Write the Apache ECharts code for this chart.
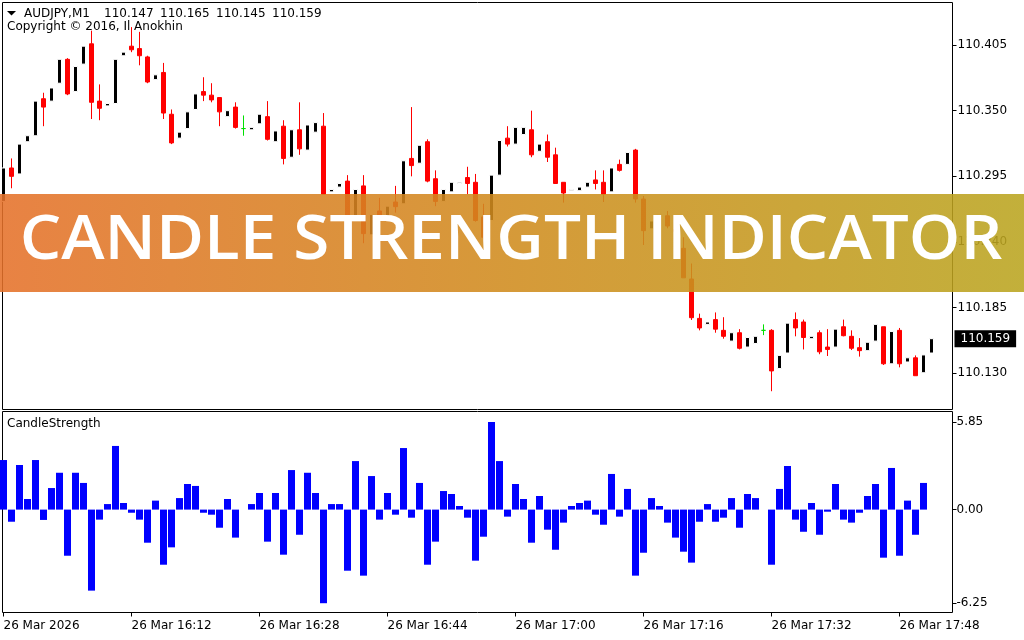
<!DOCTYPE html>
<html>
<head>
<meta charset="utf-8">
<style>
html,body{margin:0;padding:0;background:#fff;}
#chart{width:1024px;height:640px;}
</style>
<script src="https://cdn.jsdelivr.net/npm/echarts@6/dist/echarts.min.js"></script>
</head>
<body>
<div id="chart"></div>
<script>
// ---- data (AUDJPY M1, 117 bars, 26 Mar 15:56 .. 17:52) ----
const opens = [
110.274,110.302,110.297,110.324,110.329,110.360,110.358,110.373,110.393,110.366,
110.389,110.406,110.358,110.354,110.356,110.396,110.404,110.402,110.395,110.376,
110.382,110.347,110.327,110.335,110.351,110.366,110.363,110.361,110.345,110.353,
110.335,110.334,110.339,110.345,110.324,110.337,110.311,110.334,110.317,110.332,
110.337,110.282,110.286,110.291,110.258,110.287,110.246,110.266,110.261,110.2735,
110.272,110.310,110.306,110.324,110.293,110.274,110.282,110.289,110.294,110.290,
110.261,110.258,110.296,110.327,110.322,110.330,110.334,110.316,110.324,110.313,
110.290,110.283,110.283,110.286,110.292,110.290,110.282,110.305,110.305,110.317,
110.276,110.251,110.2615,110.262,110.2505,110.2347,110.209,110.176,110.171,110.175,
110.166,110.157,110.164,110.152,110.155,110.166,110.166,110.134,110.147,110.175,
110.173,110.159,110.164,110.152,110.152,110.169,110.161,110.1515,110.149,110.157,
110.169,110.138,110.166,110.1395,110.143,110.1305,110.147
];
const closes = [
110.302,110.295,110.322,110.329,110.358,110.353,110.369,110.393,110.364,110.387,
110.404,110.357,110.352,110.356,110.393,110.399,110.401,110.396,110.374,110.380,
110.348,110.323,110.332,110.349,110.364,110.363,110.359,110.349,110.350,110.336,
110.335,110.336,110.347,110.326,110.333,110.310,110.334,110.318,110.338,110.340,
110.280,110.284,110.289,110.258,110.284,110.247,110.263,110.259,110.270,110.2696,
110.308,110.304,110.321,110.291,110.274,110.284,110.290,110.290,110.289,110.258,
110.244,110.296,110.325,110.322,110.336,110.336,110.313,110.322,110.311,110.289,
110.281,110.284,110.286,110.290,110.289,110.280,110.302,110.300,110.315,110.276,
110.2495,110.2576,110.263,110.2534,110.249,110.210,110.1766,110.168,110.173,110.167,
110.161,110.164,110.151,110.160,110.161,110.166,110.132,110.145,110.172,110.168,
110.160,110.161,110.148,110.150,110.167,110.1615,110.151,110.149,110.156,110.171,
110.138,110.165,110.138,110.143,110.128,110.1454,110.159
];
const highs = [
110.302,110.310,110.322,110.329,110.358,110.365,110.369,110.393,110.394,110.387,
110.404,110.417,110.372,110.356,110.393,110.399,110.420,110.416,110.396,110.380,
110.390,110.351,110.332,110.349,110.364,110.378,110.373,110.361,110.350,110.357,
110.346,110.336,110.347,110.358,110.333,110.342,110.334,110.357,110.338,110.340,
110.348,110.284,110.289,110.296,110.284,110.296,110.263,110.277,110.270,110.287,
110.308,110.353,110.321,110.326,110.300,110.284,110.290,110.290,110.303,110.297,
110.272,110.296,110.325,110.337,110.336,110.336,110.350,110.322,110.330,110.319,
110.290,110.284,110.286,110.290,110.300,110.300,110.302,110.309,110.315,110.318,
110.2785,110.2576,110.263,110.266,110.255,110.244,110.222,110.180,110.173,110.181,
110.177,110.164,110.167,110.160,110.161,110.171,110.167,110.145,110.172,110.181,
110.175,110.161,110.166,110.167,110.167,110.175,110.166,110.1595,110.156,110.171,
110.169,110.165,110.168,110.143,110.145,110.1454,110.165
];
const lows = [
110.274,110.285,110.297,110.324,110.329,110.337,110.358,110.373,110.363,110.366,
110.389,110.343,110.342,110.354,110.356,110.396,110.399,110.388,110.373,110.376,
110.343,110.322,110.327,110.335,110.351,110.358,110.357,110.337,110.345,110.335,
110.329,110.334,110.339,110.325,110.324,110.305,110.311,110.313,110.317,110.332,
110.280,110.282,110.286,110.240,110.258,110.239,110.246,110.259,110.261,110.2646,
110.272,110.295,110.306,110.290,110.270,110.274,110.282,110.289,110.280,110.257,
110.242,110.258,110.296,110.320,110.322,110.330,110.311,110.316,110.307,110.289,
110.273,110.283,110.283,110.286,110.284,110.2735,110.282,110.299,110.305,110.273,
110.2375,110.251,110.2615,110.2515,110.237,110.210,110.1747,110.166,110.171,110.164,
110.159,110.157,110.150,110.152,110.155,110.162,110.115,110.134,110.147,110.161,
110.150,110.159,110.146,110.1445,110.152,110.161,110.1495,110.144,110.149,110.157,
110.137,110.138,110.135,110.1395,110.128,110.1305,110.145
];
// CandleStrength histogram (last bar not yet computed)
const strength = [
3.31,-0.81,2.98,0.71,3.31,-0.69,1.44,2.46,-3.08,2.46,
1.78,-5.41,-0.67,0.37,4.25,0.44,-0.21,-0.67,-2.21,0.60,
-3.68,-2.52,0.77,1.71,1.58,-0.21,-0.34,-1.21,0.71,-1.87,
0,0.37,1.11,-2.14,1.11,-3.01,2.64,-1.68,2.46,1.11,
-6.25,0.37,0.37,-4.08,3.24,-4.41,2.24,-0.67,1.11,-0.34,
4.11,-0.54,1.78,-3.68,-2.14,1.24,1.04,0.24,-0.54,-3.41,
-1.81,5.85,3.24,-0.47,1.71,0.71,-2.21,0.91,-1.34,-2.68,
-0.87,0.24,0.44,0.60,-0.34,-1.01,2.38,-0.47,1.38,-4.41,
-2.88,0.77,0.24,-0.87,-1.87,-2.81,-3.54,-0.81,0.37,-0.81,
-0.54,0.77,-1.21,1.04,0.77,0,-3.68,1.38,2.91,-0.67,
-1.48,0.44,-1.68,-0.14,1.71,-0.67,-0.87,-0.21,0.91,1.71,
-3.21,2.78,-3.08,0.60,-1.68,1.78,null
];
const timeTickIndex = [0,16,32,48,64,80,96,112];
const timeTickLabels = ['26 Mar 2026','26 Mar 16:12','26 Mar 16:28','26 Mar 16:44','26 Mar 17:00','26 Mar 17:16','26 Mar 17:32','26 Mar 17:48'];
const priceTicks = [110.130,110.185,110.240,110.295,110.350,110.405];
const strengthTicks = [5.85,0,-6.25];
const symbolName = 'AUDJPY,M1';
const copyrightText = 'Copyright \u00a9 2016, Il Anokhin';
const indicatorName = 'CandleStrength';
const bannerText = 'CANDLE STRENGTH INDICATOR';

// ---- build ----
const bull = [], bear = [], doji = [];
for (let i = 0; i < opens.length; i++) {
  const item = [i, opens[i], closes[i], lows[i], highs[i]];
  if (closes[i] > opens[i]) bull.push(item);
  else if (closes[i] < opens[i]) bear.push(item);
  else doji.push(item);
}
const last = opens.length - 1;
const headerVals = [opens[last], highs[last], lows[last], closes[last]].map(v => v.toFixed(3));

const FONT = '"DejaVu Sans", Verdana, sans-serif';
const X_MIN = -0.125, X_MAX = 118.625;

const chart = echarts.init(document.getElementById('chart'), null, {renderer: 'canvas'});
const txt = (t, x, y, extra) => Object.assign({
  type: 'text', x: x, y: y, z: 50, silent: true,
  style: {text: t, fill: '#000', fontSize: 12, fontFamily: FONT, align: 'left', verticalAlign: 'middle'}
}, extra || {});

const graphics = [
  {type: 'polygon', z: 50, silent: true, shape: {points: [[7, 11], [16, 11], [11.5, 15.5]]}, style: {fill: '#000'}},
  txt(symbolName, 24, 14),
  txt(headerVals[0], 104, 14), txt(headerVals[1], 160, 14), txt(headerVals[2], 216, 14), txt(headerVals[3], 272, 14),
  txt(copyrightText, 7, 27),
  txt(indicatorName, 7, 424),
  {
    type: 'rect', z: 100, silent: true,
    shape: {x: 0, y: 194, width: 1024, height: 98},
    style: {
      fill: {type: 'linear', x: 0, y: 0, x2: 1, y2: 0, colorStops: [
        {offset: 0, color: '#E5712A'}, {offset: 0.5, color: '#D08C1E'}, {offset: 1, color: '#BAA520'}
      ]},
      opacity: 0.88
    }
  },
  {
    type: 'text', z: 101, silent: true, x: 511, y: 241, scaleX: 1.058,
    style: {text: bannerText, fill: '#fff', fontSize: 62, fontWeight: 600, fontFamily: '"Open Sans", Lato, sans-serif', align: 'center', verticalAlign: 'middle'}
  }
];

const option = {
  animation: false,
  backgroundColor: '#fff',
  textStyle: {fontFamily: FONT},
  grid: [
    {left: 2.5, top: 2.5, width: 950, height: 407, show: true, borderColor: '#000', borderWidth: 1, backgroundColor: '#fff'},
    {left: 2.5, top: 411.5, width: 950, height: 201, show: true, borderColor: '#000', borderWidth: 1, backgroundColor: '#fff'}
  ],
  xAxis: [
    {type: 'value', gridIndex: 0, min: X_MIN, max: X_MAX, show: false, axisLine: {onZero: false}},
    {type: 'value', gridIndex: 1, min: X_MIN, max: X_MAX, position: 'bottom',
     axisLine: {show: false, onZero: false},
     splitLine: {show: false},
     axisTick: {show: true, length: 4, lineStyle: {color: '#000'}, customValues: timeTickIndex},
     axisLabel: {show: true, customValues: timeTickIndex, align: 'left', margin: 7, color: '#000', fontSize: 12, fontFamily: FONT,
       formatter: v => { const k = timeTickIndex.indexOf(Math.round(v)); return k >= 0 ? timeTickLabels[k] : ''; }}
    }
  ],
  yAxis: [
    {type: 'value', gridIndex: 0, position: 'right', min: 110.0997, max: 110.4406, scale: true,
     axisLine: {show: false, onZero: false}, splitLine: {show: false},
     axisTick: {show: true, length: 4, lineStyle: {color: '#000'}, customValues: priceTicks},
     axisLabel: {show: true, customValues: priceTicks, margin: 5, color: '#000', fontSize: 12, fontFamily: FONT, formatter: v => v.toFixed(3)}
    },
    {type: 'value', gridIndex: 1, position: 'right', min: -6.87, max: 6.55,
     axisLine: {show: false, onZero: false}, splitLine: {show: false},
     axisTick: {show: true, length: 4, lineStyle: {color: '#000'}, customValues: strengthTicks},
     axisLabel: {show: true, customValues: strengthTicks, margin: 4, color: '#000', fontSize: 12, fontFamily: FONT, formatter: v => v.toFixed(2)}
    }
  ],
  series: [
    {type: 'bar', name: 'CandleStrength', xAxisIndex: 1, yAxisIndex: 1, barWidth: 7, clip: true,
     itemStyle: {color: '#0000ff'},
     data: strength.map((v, i) => [i, v])},
    {type: 'candlestick', name: 'bear', xAxisIndex: 0, yAxisIndex: 0, barWidth: 4, clip: true,
     itemStyle: {color: '#ff0000', color0: '#ff0000', borderColor: '#ff0000', borderColor0: '#ff0000', borderWidth: 1},
     data: bear},
    {type: 'candlestick', name: 'bull', xAxisIndex: 0, yAxisIndex: 0, barWidth: 4, clip: true,
     itemStyle: {color: '#000000', color0: '#000000', borderColor: '#ffffff', borderColor0: '#ffffff', borderWidth: 1},
     data: bull,
     markLine: {
       silent: true, symbol: ['none', 'none'], z: 60, precision: 3,
       lineStyle: {width: 0, color: 'rgba(0,0,0,0)', type: 'solid'},
       emphasis: {disabled: true},
       label: {show: true, position: 'end', distance: 2, color: '#fff', backgroundColor: '#000', padding: [3, 6, 2, 6], opacity: 1,
               fontSize: 12, fontFamily: FONT, formatter: () => closes[last].toFixed(3)},
       data: [{yAxis: closes[last]}]
     }},
    {type: 'candlestick', name: 'doji', xAxisIndex: 0, yAxisIndex: 0, barWidth: 4, clip: true,
     itemStyle: {color: '#00e000', color0: '#00e000', borderColor: '#00e000', borderColor0: '#00e000', borderWidth: 1},
     data: doji}
  ],
  graphic: graphics
};
chart.setOption(option);
</script>
</body>
</html>
